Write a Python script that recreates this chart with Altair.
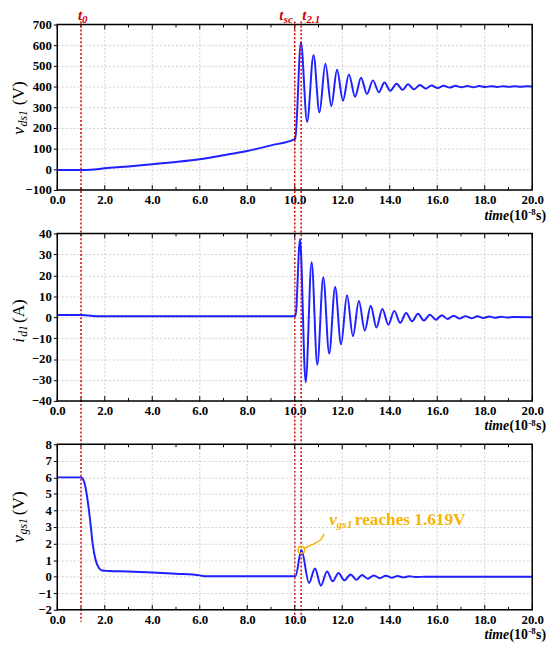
import altair as alt
import pandas as pd

# ---------------- data ----------------
vds_t = [0.0, 1.0, 1.4, 2.0, 3.0, 4.0, 5.0, 6.0, 7.0, 8.0, 9.0, 9.95, 10.02,
         10.26, 10.52, 10.79, 11.04, 11.29, 11.54, 11.78, 12.03, 12.28, 12.54,
         12.79, 13.04, 13.29, 13.54, 13.78, 14.02, 14.29, 14.54, 14.77, 15.02,
         15.27, 15.52, 15.76, 16.02, 16.27, 16.52, 16.77, 17.02, 17.27, 17.52,
         17.77, 18.02, 18.27, 18.52, 18.77, 19.02, 19.27, 19.52, 19.77, 20.0]
vds_v = [-3, -3, -2, 5, 14, 25, 36, 49, 68, 89, 116, 144, 148,
         613, 229, 552, 275, 510, 306, 481, 332, 459, 351,
         443, 364, 430, 373, 420, 380, 414, 384, 411, 387,
         408, 390, 405, 393, 404, 395, 403.5, 396.5, 403, 397,
         402.5, 397.5, 402, 398, 401.8, 398.5, 401.5, 398.7, 401.2, 400]

id_t = [0.0, 1.0, 1.5, 2.0, 10.03, 10.22, 10.46, 10.71, 10.95, 11.20, 11.45,
        11.70, 11.95, 12.20, 12.45, 12.70, 12.95, 13.20, 13.44, 13.69, 13.94,
        14.19, 14.44, 14.69, 14.94, 15.19, 15.44, 15.69, 15.94, 16.19, 16.44,
        16.69, 16.94, 17.19, 17.44, 17.69, 17.94, 18.19, 18.44, 18.69, 18.94,
        19.2, 20.0]
id_v = [1.0, 1.0, 0.6, 0.4, 0.4, 37.2, -31.1, 26.2, -22.7, 19.1, -17.4,
        14.4, -13.0, 10.5, -9.1, 7.7, -6.4, 5.5, -4.9, 3.9, -3.6,
        3.0, -2.7, 2.0, -2.0, 1.6, -1.6, 1.2, -1.2, 0.9, -0.9,
        0.7, -0.7, 0.5, -0.5, 0.4, -0.4, 0.3, -0.3, 0.2, -0.2,
        0.1, 0.0]

vgs_t = [0.0, 1.0, 1.08, 1.16, 1.30, 1.40, 1.49, 1.60, 1.74, 1.88, 2.16,
         3.0, 4.0, 5.0, 6.0, 6.2, 8.0, 10.03, 10.28, 10.6, 10.85, 11.1,
         11.36, 11.6, 11.84, 12.09, 12.35, 12.6, 12.83, 13.08, 13.33, 13.58,
         13.83, 14.08, 14.33, 14.58, 14.83, 15.08, 15.5, 20.0]
vgs_v = [6.0, 6.0, 5.9, 5.58, 4.39, 3.2, 2.0, 1.1, 0.55, 0.38, 0.35,
         0.32, 0.26, 0.18, 0.08, 0.03, 0.03, 0.03, 1.619, -0.38, 0.50, -0.54,
         0.32, -0.28, 0.22, -0.22, 0.14, -0.18, 0.10, -0.12, 0.08, -0.09,
         0.06, -0.06, 0.04, -0.04, 0.03, -0.02, 0.0, 0.0]

event_t = [1.0, 10.0, 10.27]
event_sub = ["0", "sc", "2.1"]

x_major = [0, 2, 4, 6, 8, 10, 12, 14, 16, 18, 20]
x_minor = [1, 3, 5, 7, 9, 11, 13, 15, 17, 19]
vds_ticks = [-100, 0, 100, 200, 300, 400, 500, 600, 700]
id_ticks = [-40, -30, -20, -10, 0, 10, 20, 30, 40]
vgs_ticks = [-2, -1, 0, 1, 2, 3, 4, 5, 6, 7, 8]

peak_t = [10.28]
peak_v = [1.619]
leader_t = [10.37, 10.54, 10.88, 11.13, 11.23]
leader_v = [1.70, 1.81, 2.05, 2.30, 2.60]
note_t = [11.45]
note_v = [3.1]
note_text = "reaches 1.619V"

# ---------------- styling ----------------
W = 482
H = 594
SERIF = "Liberation Serif"
BLUE = "#1f1fff"
RED = "#d00000"
GOLD = "#f5b400"
GRID = "#c4c4c4"

ONE = pd.DataFrame({"a": [0]})


def txt(s, x, y, size, style="normal", weight="normal", color="black",
        dx=0, dy=0, align="left", angle=0):
    kw = dict(text=s, font=SERIF, fontSize=size, fontStyle=style,
              fontWeight=weight, color=color, dx=dx, dy=dy, align=align,
              baseline="alphabetic")
    if angle:
        kw["angle"] = angle
    return alt.Chart(ONE).mark_text(**kw).encode(x=alt.value(x), y=alt.value(y))


def make_panel(t, v, ydom, yvals, top, bottom, ytitle, ytitle_start,
               events=False, note=False):
    df = pd.DataFrame({"t": t, "v": v})
    xs = alt.Scale(domain=[0, 20], nice=False, zero=False)
    ys = alt.Scale(domain=ydom, range=[bottom, top], nice=False, zero=False)
    xax = alt.Axis(values=x_major, format=".1f", title=None, grid=False,
                   ticks=False, domain=False, labelPadding=4, labelFlush=False,
                   labelOverlap=False, labelFont=SERIF, labelFontWeight="bold",
                   labelFontSize=13, labelColor="black", orient="bottom",
                   offset=-(H - bottom))
    yax = alt.Axis(values=yvals, title=None, grid=True, gridColor=GRID,
                   gridDash=[2, 2], gridWidth=0.8, ticks=True, tickSize=4,
                   tickColor="black", tickWidth=1, domain=False, labelPadding=2,
                   labelOverlap=False, labelFont=SERIF, labelFontWeight="bold",
                   labelFontSize=13, labelColor="black", orient="left")
    X = alt.X("t:Q", scale=xs, axis=xax)
    Y = alt.Y("v:Q", scale=ys, axis=yax)

    layers = []
    # vertical grid
    gd = pd.DataFrame({"t": x_major})
    layers.append(alt.Chart(gd).mark_rule(color=GRID, strokeWidth=0.8,
                                          strokeDash=[2, 2]).encode(
        x=X, y=alt.value(top), y2=alt.value(bottom)))

    layers.append(alt.Chart(df).mark_line(color=BLUE, strokeWidth=2,
                                          interpolate="monotone").encode(x=X, y=Y))

    # x ticks (inside, top and bottom)
    for vals, L in ((x_major, 5), (x_minor, 3)):
        d = pd.DataFrame({"t": vals})
        layers.append(alt.Chart(d).mark_rule(color="black", strokeWidth=1).encode(
            x=X, y=alt.value(bottom), y2=alt.value(bottom - L)))
        layers.append(alt.Chart(d).mark_rule(color="black", strokeWidth=1).encode(
            x=X, y=alt.value(top), y2=alt.value(top + L)))

    # frame
    layers.append(alt.Chart(ONE).mark_rect(fill=None, stroke="black", strokeWidth=1.5).encode(
        x=alt.value(0), x2=alt.value(W), y=alt.value(top), y2=alt.value(bottom)))

    # y title (rotated, with subscript)
    main, sub, unit, sub_dx, unit_dx = ytitle
    ys0 = top + ytitle_start
    layers.append(txt(main, -34, ys0, 17.5, style="italic", angle=270))
    layers.append(txt(sub, -34, ys0, 12, style="italic", angle=270,
                      dx=sub_dx, dy=3))
    layers.append(txt(unit, -34, ys0, 17.5, angle=270, dx=unit_dx))

    # x title  time(10^-8 s)
    xt, yt = W + 14, bottom + 30
    layers.append(txt("s)", xt, yt, 14, weight="bold", align="right"))
    layers.append(txt("-8", xt, yt, 9, weight="bold", align="right", dx=-10.5, dy=-5))
    layers.append(txt("(10", xt, yt, 14, weight="bold", align="right", dx=-18.5))
    layers.append(txt("time", xt, yt, 14, style="italic", weight="bold",
                      align="right", dx=-37.5))

    if events:
        ev = pd.DataFrame({"t": event_t})
        layers.append(alt.Chart(ev).mark_rule(color=RED, strokeWidth=1.5,
                                              strokeDash=[2, 2]).encode(
            x=X, y=alt.value(-3), y2=alt.value(H + 12)))
        offs = [(1, "right", 1, "left"), (-11.5, "right", -2, "right"),
                (1, "left", 5.5, "left")]
        for i, (mdx, mal, sdx, sal) in enumerate(offs):
            d = pd.DataFrame({"t": [event_t[i]]})
            layers.append(alt.Chart(d).mark_text(
                text="t", font=SERIF, fontSize=15, fontStyle="italic",
                fontWeight="bold", color=RED, align=mal, baseline="alphabetic",
                dx=mdx).encode(x=X, y=alt.value(-5)))
            layers.append(alt.Chart(d).mark_text(
                text=event_sub[i], font=SERIF, fontSize=11, fontStyle="italic",
                fontWeight="bold", color=RED, align=sal, baseline="alphabetic",
                dx=sdx).encode(x=X, y=alt.value(-2)))

    if note:
        ld = pd.DataFrame({"t": leader_t, "v": leader_v})
        layers.append(alt.Chart(ld).mark_line(color=GOLD, strokeWidth=1.5,
                                              interpolate="monotone").encode(x=X, y=Y))
        pk = pd.DataFrame({"t": peak_t, "v": peak_v})
        layers.append(alt.Chart(pk).mark_point(shape="circle", filled=False,
                                               color=GOLD, size=45,
                                               strokeWidth=1.5, opacity=1).encode(x=X, y=Y))
        nd = pd.DataFrame({"t": note_t, "v": note_v})
        for s, size, dx, dy in (("v", 17.5, 0, 0), ("gs1", 11.5, 7.5, 3),
                                (note_text, 17.5, 26, 0)):
            layers.append(alt.Chart(nd).mark_text(
                text=s, font=SERIF, fontSize=size,
                fontStyle="italic" if s != note_text else "normal",
                fontWeight="bold", color=GOLD, align="left",
                baseline="alphabetic", dx=dx, dy=dy).encode(x=X, y=Y))

    return alt.layer(*layers)


p1 = make_panel(vds_t, vds_v, [-100, 700], vds_ticks, 0, 168,
                ("v", "ds1", "(V)", 8.5, 30), 112, events=True)
p2 = make_panel(id_t, id_v, [-40, 40], id_ticks, 212, 382,
                ("i", "d1", "(A)", 6, 20), 111)
p3 = make_panel(vgs_t, vgs_v, [-2, 8], vgs_ticks, 426, 594,
                ("v", "gs1", "(V)", 8.5, 28), 100, note=True)

chart = alt.layer(p1, p2, p3).resolve_scale(
    x="independent", y="independent"
).properties(
    width=W, height=H,
    autosize=alt.AutoSizeParams(type="none"),
    padding={"left": 50, "right": 16, "top": 12, "bottom": 34},
).configure_view(stroke=None)

chart.save("out.html", embed_options={"renderer": "svg", "actions": False})
